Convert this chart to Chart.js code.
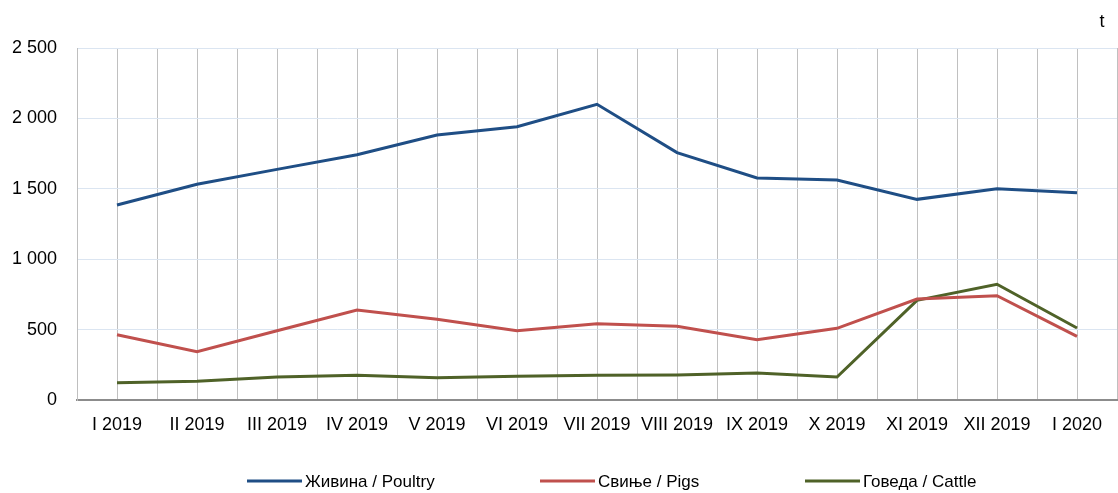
<!DOCTYPE html>
<html>
<head>
<meta charset="utf-8">
<script src="https://cdn.jsdelivr.net/npm/chart.js@4"></script>
<style>
  html, body { margin: 0; padding: 0; background: #fff; }
  #wrap { width: 1118px; height: 493px; }
</style>
</head>
<body>
<div id="wrap"><canvas id="chart"></canvas></div>
<script>
// months (Roman numerals) and tonnes per series
const months = ['I 2019', 'II 2019', 'III 2019', 'IV 2019', 'V 2019', 'VI 2019', 'VII 2019',
  'VIII 2019', 'IX 2019', 'X 2019', 'XI 2019', 'XII 2019', 'I 2020'];
const poultry = [1385, 1532, 1638, 1742, 1882, 1941, 2100, 1757, 1577, 1562, 1425, 1501, 1472];
const pigs = [464, 343, 492, 639, 573, 492, 542, 523, 428, 509, 717, 741, 452];
const cattle = [123, 133, 163, 175, 158, 168, 175, 178, 192, 163, 708, 822, 511];
const unitLabel = 't';

const FONT = "'Liberation Sans', Arial, sans-serif";

// small "t" unit label above the right end of the plot
const unitPlugin = {
  id: 'unit',
  afterDraw(chart) {
    const { ctx, chartArea } = chart;
    ctx.save();
    ctx.fillStyle = '#000';
    ctx.font = '18px ' + FONT;
    ctx.textAlign = 'center';
    ctx.textBaseline = 'alphabetic';
    ctx.fillText(unitLabel, chartArea.right - 15, 27);
    ctx.restore();
  }
};

// legend drawn by hand: long line sample, text right after it
const lineLegend = {
  id: 'lineLegend',
  afterDraw(chart) {
    const { ctx } = chart;
    const starts = [247, 540, 805];
    const y = 481;
    ctx.save();
    ctx.font = '17px ' + FONT;
    ctx.textBaseline = 'middle';
    chart.data.datasets.forEach((ds, i) => {
      const x = starts[i];
      ctx.strokeStyle = ds.borderColor;
      ctx.lineWidth = 3;
      ctx.beginPath();
      ctx.moveTo(x, y);
      ctx.lineTo(x + 55, y);
      ctx.stroke();
      ctx.fillStyle = '#000';
      ctx.fillText(ds.label, x + 58, y + 1);
    });
    ctx.restore();
  }
};

function series(label, data, color) {
  return {
    label,
    data,
    borderColor: color,
    backgroundColor: color,
    borderWidth: 3,
    pointRadius: 0,
    tension: 0,
    fill: false,
  };
}

new Chart(document.getElementById('chart'), {
  type: 'line',
  data: {
    labels: months,
    datasets: [
      series('Живина / Poultry', poultry, '#1f4e85'),
      series('Свиње / Pigs', pigs, '#c0504d'),
      series('Говеда / Cattle', cattle, '#4f6228'),
    ],
  },
  plugins: [unitPlugin, lineLegend],
  options: {
    responsive: true,
    maintainAspectRatio: false,
    animation: false,
    layout: { padding: { top: 48, right: 1, left: 0, bottom: 50 } },
    plugins: {
      legend: { display: false },
      tooltip: { enabled: false },
    },
    scales: {
      x: {
        offset: true,
        grid: { display: true, offset: false, color: '#c0c0c0', drawTicks: false },
        border: { color: '#8c8c8c', width: 2 },
        ticks: { color: '#000', font: { family: FONT, size: 18 }, padding: 14, maxRotation: 0, autoSkip: false },
        afterFit(scale) { scale.height = 43; },
      },
      x2: {
        position: 'bottom',
        offset: true,
        labels: months,
        grid: { display: true, offset: true, color: '#c0c0c0', drawTicks: false },
        border: { display: false },
        ticks: { display: false },
        afterFit(scale) { scale.height = 0; },
      },
      y: {
        min: 0,
        max: 2500,
        ticks: {
          stepSize: 500,
          color: '#000',
          font: { family: FONT, size: 18 },
          padding: 20,
          callback: (v) => String(v).replace(/\B(?=(\d{3})+(?!\d))/g, ' '),
        },
        grid: { color: '#dbe5f1', drawTicks: false },
        border: { color: '#bfbfbf', width: 1 },
        afterFit(scale) { scale.width = 77; },
      },
    },
  },
});
</script>
</body>
</html>
